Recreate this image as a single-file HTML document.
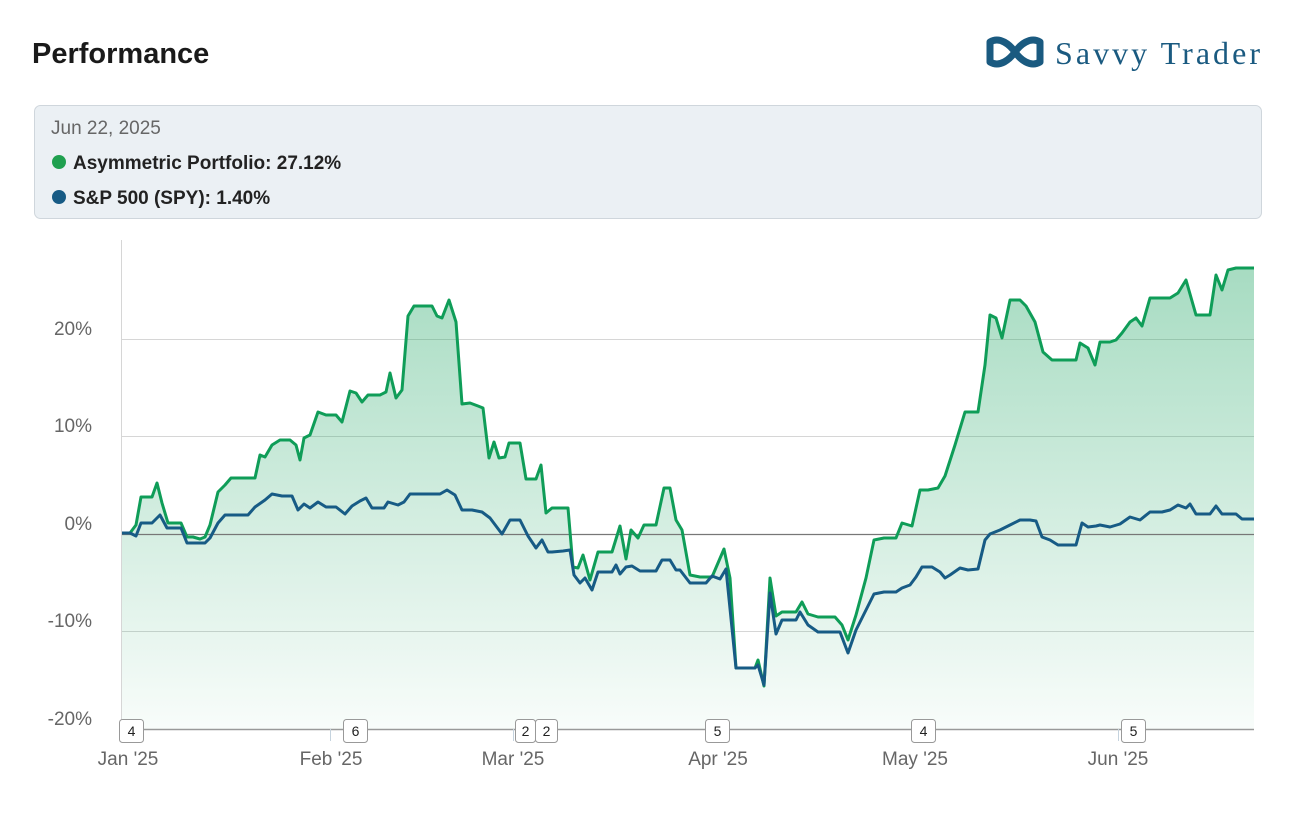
<!DOCTYPE html>
<html><head><meta charset="utf-8"><style>
body{margin:0;background:#fff;width:1292px;height:818px;overflow:hidden;font-family:"Liberation Sans",sans-serif;}
</style></head><body>
<svg width="1292" height="818" xmlns="http://www.w3.org/2000/svg" style="position:absolute;left:0;top:0">
<defs>
<linearGradient id="gf" x1="0" y1="260" x2="0" y2="729" gradientUnits="userSpaceOnUse">
<stop offset="0" stop-color="#1fa563" stop-opacity="0.4"/>
<stop offset="1" stop-color="#1fa563" stop-opacity="0.03"/>
</linearGradient>
</defs>
<text x="32" y="63" font-size="29" font-weight="bold" fill="#1a1a1a">Performance</text>
<g fill="none" stroke="#1a5a80" stroke-width="7" stroke-linejoin="round">
<path d="M990 42 C1000 36 1010 45 1015 52 C1020 59 1030 68 1040 62 L1040 42 C1030 36 1020 45 1015 52 C1010 59 1000 68 990 62 Z"/>
</g>
<text x="1055" y="64" font-family="Liberation Serif,serif" font-size="32" fill="#1a5a80" textLength="205" lengthAdjust="spacing">Savvy Trader</text>
<rect x="34.5" y="105.5" width="1227" height="113" rx="6" fill="#ebf0f4" stroke="#cfd6dc"/>
<text x="51" y="134" font-size="19" fill="#666">Jun 22, 2025</text>
<circle cx="59" cy="162" r="7" fill="#1fa04f"/>
<text x="73" y="169" font-size="19" font-weight="bold" fill="#222">Asymmetric Portfolio: 27.12%</text>
<circle cx="59" cy="197" r="7" fill="#175b85"/>
<text x="73" y="204" font-size="19" font-weight="bold" fill="#222">S&amp;P 500 (SPY): 1.40%</text>
<g stroke="#d6d6d6" stroke-width="1">
<line x1="122" y1="339.5" x2="1254" y2="339.5"/>
<line x1="122" y1="436.5" x2="1254" y2="436.5"/>
<line x1="122" y1="631.5" x2="1254" y2="631.5"/>
<line x1="121.5" y1="240" x2="121.5" y2="729"/>
</g>
<g font-size="19" fill="#666" text-anchor="end">
<text x="92" y="335">20%</text><text x="92" y="432">10%</text><text x="92" y="530">0%</text><text x="92" y="627">-10%</text><text x="92" y="725">-20%</text>
</g>
<polygon fill="url(#gf)" points="122,729 122,533 130,533 136,525 141,497 152,497 157,483 162,503 168,523 175,523 181,523 187,537 193,537 200,539 205,537 210,525 218,492 225,485 231,478 240,478 248,478 255,478 260,455 265,457 272,445 280,440 290,440 296,445 300,460 304,438 310,435 318,412 326,415 336,415 342,422 350,391 356,393 362,402 368,395 380,395 386,392 390,373 396,398 402,390 408,316 414,306 420,306 432,306 437,316 442,318 449,300 456,322 462,404 470,403 478,406 483,408 489,458 494,442 499,458 505,457 509,443 520,443 526,479 536,479 541,465 546,513 552,508 568,508 573,567 578,568 583,555 590,580 598,552 612,552 620,526 626,559 631,530 638,538 644,525 656,525 664,488 670,488 676,520 682,530 690,575 700,577 712,577 718,563 724,549 730,578 736,668 748,668 755,668 758,660 764,686 770,578 776,616 782,612 796,612 802,602 808,614 818,617 826,617 835,617 842,625 848,640 856,615 866,578 874,540 884,538 896,538 902,523 912,526 920,490 928,490 938,488 945,476 955,445 965,412 978,412 985,365 990,315 996,318 1002,338 1010,300 1020,300 1026,306 1035,322 1043,352 1052,360 1062,360 1076,360 1080,343 1088,348 1095,365 1100,342 1110,342 1116,340 1122,333 1130,322 1136,318 1142,326 1150,298 1162,298 1170,298 1178,293 1186,280 1196,315 1210,315 1216,275 1222,290 1228,270 1236,268 1244,268 1254,268 1254,729"/>
<line x1="122" y1="534.5" x2="1254" y2="534.5" stroke="#777" stroke-width="1.2"/>
<polyline fill="none" stroke="#0f9d58" stroke-width="3" stroke-linejoin="round" points="122,533 130,533 136,525 141,497 152,497 157,483 162,503 168,523 175,523 181,523 187,537 193,537 200,539 205,537 210,525 218,492 225,485 231,478 240,478 248,478 255,478 260,455 265,457 272,445 280,440 290,440 296,445 300,460 304,438 310,435 318,412 326,415 336,415 342,422 350,391 356,393 362,402 368,395 380,395 386,392 390,373 396,398 402,390 408,316 414,306 420,306 432,306 437,316 442,318 449,300 456,322 462,404 470,403 478,406 483,408 489,458 494,442 499,458 505,457 509,443 520,443 526,479 536,479 541,465 546,513 552,508 568,508 573,567 578,568 583,555 590,580 598,552 612,552 620,526 626,559 631,530 638,538 644,525 656,525 664,488 670,488 676,520 682,530 690,575 700,577 712,577 718,563 724,549 730,578 736,668 748,668 755,668 758,660 764,686 770,578 776,616 782,612 796,612 802,602 808,614 818,617 826,617 835,617 842,625 848,640 856,615 866,578 874,540 884,538 896,538 902,523 912,526 920,490 928,490 938,488 945,476 955,445 965,412 978,412 985,365 990,315 996,318 1002,338 1010,300 1020,300 1026,306 1035,322 1043,352 1052,360 1062,360 1076,360 1080,343 1088,348 1095,365 1100,342 1110,342 1116,340 1122,333 1130,322 1136,318 1142,326 1150,298 1162,298 1170,298 1178,293 1186,280 1196,315 1210,315 1216,275 1222,290 1228,270 1236,268 1244,268 1254,268"/>
<polyline fill="none" stroke="#175b85" stroke-width="3" stroke-linejoin="round" points="122,533 130,533 136,536 141,523 152,523 160,515 167,528 175,528 181,528 187,543 195,543 205,543 210,538 218,523 225,515 231,515 240,515 248,515 255,507 265,500 272,494 282,496 292,496 298,510 304,504 310,508 318,502 326,507 336,507 345,514 352,506 360,501 366,498 372,508 384,508 388,502 398,505 404,502 410,494 430,494 440,494 447,490 455,495 462,510 472,510 482,512 490,518 496,526 502,534 510,520 520,520 528,536 536,548 542,540 548,552 552,552 563,551 570,550 574,575 580,583 585,578 592,590 598,572 612,572 616,565 620,574 626,567 632,566 640,571 656,571 662,560 670,560 676,570 680,570 690,583 700,583 706,583 712,576 720,579 726,569 736,668 748,668 755,668 758,665 764,685 770,593 776,634 782,620 796,620 800,612 808,625 818,632 840,632 848,653 856,630 866,610 874,594 884,592 896,592 902,588 910,585 916,577 922,567 932,567 940,572 945,578 950,575 960,568 968,570 978,569 985,540 990,534 1000,530 1010,525 1020,520 1030,520 1036,521 1042,537 1050,540 1058,545 1076,545 1082,523 1088,527 1096,526 1100,525 1110,527 1120,524 1130,517 1140,520 1150,512 1162,512 1170,510 1178,505 1186,508 1190,504 1196,514 1210,514 1216,506 1222,514 1236,514 1242,519 1254,519"/>
<line x1="122" y1="729.5" x2="1254" y2="729.5" stroke="#999" stroke-width="1.5"/>
<g stroke="#c5d3de" stroke-width="1">
<line x1="128.5" y1="729" x2="128.5" y2="741"/><line x1="330.5" y1="729" x2="330.5" y2="741"/><line x1="513.5" y1="729" x2="513.5" y2="741"/><line x1="717.5" y1="729" x2="717.5" y2="741"/><line x1="914.5" y1="729" x2="914.5" y2="741"/><line x1="1118.5" y1="729" x2="1118.5" y2="741"/>
</g>
<g font-size="14" fill="#222" text-anchor="middle">
<rect x="119.5" y="719.5" width="24" height="23" rx="3" fill="#fff" stroke="#999"/><text x="131.5" y="736">4</text>
<rect x="343.5" y="719.5" width="24" height="23" rx="3" fill="#fff" stroke="#999"/><text x="355.5" y="736">6</text>
<rect x="515.5" y="719.5" width="20" height="23" rx="3" fill="#fff" stroke="#999"/><text x="525.5" y="736">2</text>
<rect x="535.5" y="719.5" width="22" height="23" rx="3" fill="#fff" stroke="#999"/><text x="546.5" y="736">2</text>
<rect x="705.5" y="719.5" width="24" height="23" rx="3" fill="#fff" stroke="#999"/><text x="717.5" y="736">5</text>
<rect x="911.5" y="719.5" width="24" height="23" rx="3" fill="#fff" stroke="#999"/><text x="923.5" y="736">4</text>
<rect x="1121.5" y="719.5" width="24" height="23" rx="3" fill="#fff" stroke="#999"/><text x="1133.5" y="736">5</text>
</g>
<g font-size="19" fill="#666" text-anchor="middle">
<text x="128" y="765">Jan '25</text><text x="331" y="765">Feb '25</text><text x="513" y="765">Mar '25</text><text x="718" y="765">Apr '25</text><text x="915" y="765">May '25</text><text x="1118" y="765">Jun '25</text>
</g>
</svg>
</body></html>
